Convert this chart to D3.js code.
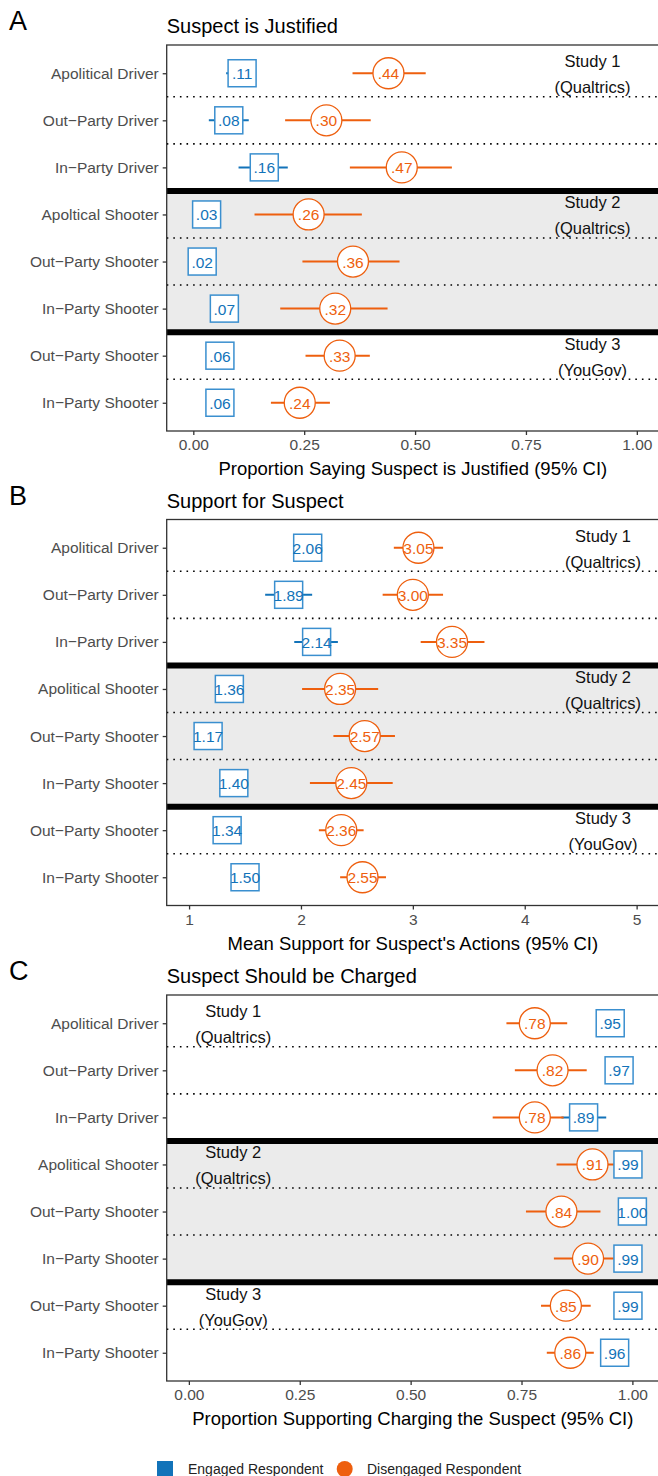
<!DOCTYPE html>
<html>
<head>
<meta charset="utf-8">
<script src="https://cdn.jsdelivr.net/npm/d3@7"></script>
<style>
  html, body { margin: 0; padding: 0; background: #fff; }
  svg { display: block; font-family: "Liberation Sans", Arial, Helvetica, sans-serif; }
</style>
</head>
<body>
<svg id="chart" width="658" height="1476"></svg>
<script>
// Row categories (top to bottom) for each panel
const rowsA = ["Apolitical Driver", "Out\u2212Party Driver", "In\u2212Party Driver",
  "Apoltical Shooter", "Out\u2212Party Shooter", "In\u2212Party Shooter",
  "Out\u2212Party Shooter", "In\u2212Party Shooter"];
const rowsBC = ["Apolitical Driver", "Out\u2212Party Driver", "In\u2212Party Driver",
  "Apolitical Shooter", "Out\u2212Party Shooter", "In\u2212Party Shooter",
  "Out\u2212Party Shooter", "In\u2212Party Shooter"];

// Study group labels and the row each one sits beside
const studyNames = ["Study 1", "Study 2", "Study 3"];
const studySources = ["(Qualtrics)", "(Qualtrics)", "(YouGov)"];
const studyRows = [0, 3, 6];

// Panel A: proportion saying suspect is justified
const engagedA   = [0.11, 0.08, 0.16, 0.03, 0.02, 0.07, 0.06, 0.06];
const engagedLoA = [0.074, 0.035, 0.102, 0.010, 0.000, 0.040, 0.040, 0.040];
const engagedHiA = [0.135, 0.125, 0.213, 0.055, 0.045, 0.100, 0.080, 0.080];
const disengA    = [0.44, 0.30, 0.47, 0.26, 0.36, 0.32, 0.33, 0.24];
const disengLoA  = [0.359, 0.207, 0.353, 0.138, 0.246, 0.196, 0.253, 0.175];
const disengHiA  = [0.524, 0.400, 0.583, 0.380, 0.465, 0.438, 0.398, 0.308];

// Panel B: mean support for suspect's actions
const engagedB   = [2.06, 1.89, 2.14, 1.36, 1.17, 1.40, 1.34, 1.50];
const engagedLoB = [1.93, 1.68, 1.94, 1.25, 1.08, 1.30, 1.27, 1.43];
const engagedHiB = [2.19, 2.10, 2.33, 1.47, 1.26, 1.50, 1.41, 1.57];
const disengB    = [3.05, 3.00, 3.35, 2.35, 2.57, 2.45, 2.36, 2.55];
const disengLoB  = [2.83, 2.73, 3.07, 2.01, 2.29, 2.08, 2.16, 2.35];
const disengHiB  = [3.27, 3.27, 3.64, 2.69, 2.84, 2.82, 2.56, 2.76];

// Panel C: proportion supporting charging the suspect
const engagedC   = [0.95, 0.97, 0.89, 0.99, 1.00, 0.99, 0.99, 0.96];
const engagedLoC = [0.93, 0.95, 0.84, 0.98, 1.00, 0.98, 0.98, 0.94];
const engagedHiC = [0.97, 0.99, 0.941, 1.00, 1.00, 1.00, 1.00, 0.98];
const disengC    = [0.78, 0.82, 0.78, 0.91, 0.84, 0.90, 0.85, 0.86];
const disengLoC  = [0.716, 0.735, 0.685, 0.829, 0.760, 0.823, 0.794, 0.807];
const disengHiC  = [0.853, 0.897, 0.845, 0.962, 0.928, 0.958, 0.906, 0.913];

// Axis ticks
const ticksProp = [0, 0.25, 0.5, 0.75, 1];
const ticksMean = [1, 2, 3, 4, 5];

// Legend entries
const legendLabels = ["Engaged Respondent", "Disengaged Respondent"];

const BLUE = "#1273b9";
const BLUE_EDGE = "#3a8fcf";
const ORANGE = "#ee5f0e";
const INK = "#333333";
const GREY_TXT = "#4d4d4d";

const svg = d3.select("#chart");

const propFmt = v => v >= 1 ? d3.format(".2f")(v) : d3.format(".2f")(v).replace(/^0/, "");
const meanFmt = d3.format(".2f");

const panels = [
  { letter: "A", title: "Suspect is Justified", top: 45, rows: rowsA,
    domain: [-0.06, 1.05], ticks: ticksProp, tickFmt: d3.format(".2f"), valFmt: propFmt,
    xTitle: "Proportion Saying Suspect is Justified (95% CI)", studyX: 0.9,
    eng: engagedA, engLo: engagedLoA, engHi: engagedHiA,
    dis: disengA, disLo: disengLoA, disHi: disengHiA },
  { letter: "B", title: "Support for Suspect", top: 519.5, rows: rowsBC,
    domain: [0.8, 5.2], ticks: ticksMean, tickFmt: d3.format("d"), valFmt: meanFmt,
    xTitle: "Mean Support for Suspect's Actions (95% CI)", studyX: 4.7,
    eng: engagedB, engLo: engagedLoB, engHi: engagedHiB,
    dis: disengB, disLo: disengLoB, disHi: disengHiB },
  { letter: "C", title: "Suspect Should be Charged", top: 995, rows: rowsBC,
    domain: [-0.05, 1.06], ticks: ticksProp, tickFmt: d3.format(".2f"), valFmt: propFmt,
    xTitle: "Proportion Supporting Charging the Suspect (95% CI)", studyX: 0.1,
    eng: engagedC, engLo: engagedLoC, engHi: engagedHiC,
    dis: disengC, disLo: disengLoC, disHi: disengHiC }
];

const left = 166.7, right = 659, panelH = 386;

panels.forEach(p => {
  const g = svg.append("g");
  const top = p.top, bottom = top + panelH;
  const x = d3.scaleLinear().domain(p.domain).range([left, right]);
  const idx = d3.range(p.rows.length);
  const y = d3.scalePoint().domain(idx).range([top, bottom]).padding(0.6);
  const step = y.step();
  const mid = i => y(i) + step / 2;

  // Panel letter and title
  g.append("text").attr("x", 9).attr("y", top - 15)
    .attr("font-size", 27).attr("fill", "#000").text(p.letter);
  g.append("text").attr("x", left).attr("y", top - 12)
    .attr("font-size", 20).attr("fill", "#000").text(p.title);

  // Shaded band for Study 2
  g.append("rect").attr("x", left).attr("y", mid(2))
    .attr("width", right - left).attr("height", mid(5) - mid(2)).attr("fill", "#ebebeb");

  // Dotted separators between rows within a study
  [0, 1, 3, 4, 6].forEach(i => {
    g.append("line").attr("x1", left).attr("x2", right).attr("y1", mid(i)).attr("y2", mid(i))
      .attr("stroke", "#000").attr("stroke-width", 1.6).attr("stroke-dasharray", "1.6,5");
  });
  // Heavy separators between studies
  [2, 5].forEach(i => {
    g.append("line").attr("x1", left).attr("x2", right).attr("y1", mid(i)).attr("y2", mid(i))
      .attr("stroke", "#000").attr("stroke-width", 6);
  });

  // Study labels
  studyRows.forEach((r, k) => {
    const t = g.append("text").attr("x", x(p.studyX)).attr("text-anchor", "middle")
      .attr("font-size", 16.5).attr("fill", "#111");
    t.append("tspan").attr("x", x(p.studyX)).attr("y", y(r) - 12).attr("dominant-baseline", "central").text(studyNames[k]);
    t.append("tspan").attr("x", x(p.studyX)).attr("y", y(r) + 14).attr("dominant-baseline", "central").text(studySources[k]);
  });

  // Confidence intervals
  g.selectAll(".ciE").data(idx).join("line")
    .attr("x1", i => x(p.engLo[i])).attr("x2", i => x(p.engHi[i]))
    .attr("y1", i => y(i)).attr("y2", i => y(i))
    .attr("stroke", BLUE).attr("stroke-width", 2);
  g.selectAll(".ciD").data(idx).join("line")
    .attr("x1", i => x(p.disLo[i])).attr("x2", i => x(p.disHi[i]))
    .attr("y1", i => y(i)).attr("y2", i => y(i))
    .attr("stroke", ORANGE).attr("stroke-width", 2);

  // Engaged: open squares with value
  g.selectAll(".sq").data(idx).join("rect")
    .attr("x", i => x(p.eng[i]) - 14).attr("y", i => y(i) - 13.5)
    .attr("width", 28).attr("height", 27)
    .attr("fill", "#fff").attr("stroke", BLUE_EDGE).attr("stroke-width", 1.5);
  g.selectAll(".sqt").data(idx).join("text")
    .attr("x", i => x(p.eng[i])).attr("y", i => y(i) + 0.5)
    .attr("text-anchor", "middle").attr("dominant-baseline", "central")
    .attr("font-size", 15.5).attr("fill", BLUE).text(i => p.valFmt(p.eng[i]));

  // Disengaged: open circles with value
  g.selectAll(".ci").data(idx).join("circle")
    .attr("cx", i => x(p.dis[i])).attr("cy", i => y(i)).attr("r", 15.5)
    .attr("fill", "#fff").attr("stroke", ORANGE).attr("stroke-width", 1.3);
  g.selectAll(".cit").data(idx).join("text")
    .attr("x", i => x(p.dis[i])).attr("y", i => y(i) + 0.5)
    .attr("text-anchor", "middle").attr("dominant-baseline", "central")
    .attr("font-size", 15.5).attr("fill", ORANGE).text(i => p.valFmt(p.dis[i]));

  // Panel frame
  g.append("rect").attr("x", left).attr("y", top).attr("width", right + 5 - left).attr("height", panelH)
    .attr("fill", "none").attr("stroke", INK).attr("stroke-width", 1.3);

  // Y axis
  const yAxis = g.append("g").attr("transform", `translate(${left},0)`)
    .call(d3.axisLeft(y).tickSize(4).tickPadding(4).tickFormat(i => p.rows[i]));
  yAxis.select(".domain").remove();
  yAxis.selectAll(".tick line").attr("stroke", INK).attr("stroke-width", 1.3);
  yAxis.selectAll(".tick text").attr("font-size", 15.5).attr("fill", GREY_TXT)
    .attr("font-family", "Liberation Sans, Arial, sans-serif");

  // X axis
  const xAxis = g.append("g").attr("transform", `translate(0,${bottom})`)
    .call(d3.axisBottom(x).tickValues(p.ticks).tickFormat(p.tickFmt).tickSize(4).tickPadding(4));
  xAxis.select(".domain").remove();
  xAxis.selectAll(".tick line").attr("stroke", INK).attr("stroke-width", 1.3);
  xAxis.selectAll(".tick text").attr("font-size", 15.5).attr("fill", GREY_TXT)
    .attr("font-family", "Liberation Sans, Arial, sans-serif");

  g.append("text").attr("x", (left + 659) / 2).attr("y", bottom + 44)
    .attr("text-anchor", "middle").attr("font-size", 18.5).attr("fill", "#000").text(p.xTitle);
});

// Legend
const lg = svg.append("g");
lg.append("rect").attr("x", 157).attr("y", 1461).attr("width", 16).attr("height", 16).attr("fill", BLUE);
lg.append("text").attr("x", 188).attr("y", 1469).attr("dominant-baseline", "central")
  .attr("font-size", 14).attr("fill", "#222").text(legendLabels[0]);
lg.append("circle").attr("cx", 344.7).attr("cy", 1469).attr("r", 8).attr("fill", ORANGE);
lg.append("text").attr("x", 367).attr("y", 1469).attr("dominant-baseline", "central")
  .attr("font-size", 14).attr("fill", "#222").text(legendLabels[1]);
</script>
</body>
</html>
